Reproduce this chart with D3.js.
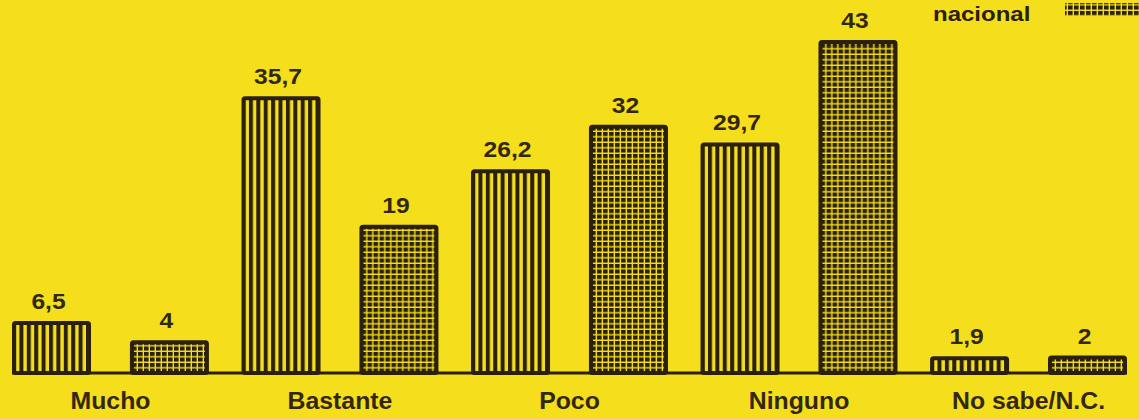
<!DOCTYPE html>
<html lang="es">
<head>
  <meta charset="UTF-8">
  <title>Mucho / Bastante / Poco / Ninguno</title>
  <script src="https://d3js.org/d3.v7.min.js"></script>
  <style>
    html, body {
      margin: 0;
      padding: 0;
      background: #f5df1c;
      overflow: hidden;
    }
    svg { display: block; }
    .value-label {
      font-family: "Liberation Sans", Arial, sans-serif;
      font-size: 22px;
      font-weight: bold;
      fill: #33280f;
      text-anchor: middle;
    }
    .cat-label {
      font-family: "Liberation Sans", Arial, sans-serif;
      font-size: 23px;
      font-weight: bold;
      fill: #33280f;
      text-anchor: middle;
    }
    .legend-label {
      font-family: "Liberation Sans", Arial, sans-serif;
      font-size: 20px;
      font-weight: bold;
      fill: #2a200c;
    }
  </style>
</head>
<body>
  <svg width="1139" height="419"></svg>

  <script>
    // datos
    const categories = ["Mucho", "Bastante", "Poco", "Ninguno", "No sabe/N.C."];
    const series = ["local", "nacional"];
    const localValues = [6.5, 35.7, 26.2, 29.7, 1.9];
    const nacionalValues = [4, 19, 32, 43, 2];
    const valueLabels = [
      ["6,5", "4"], ["35,7", "19"], ["26,2", "32"], ["29,7", "43"], ["1,9", "2"]
    ];

    const W = 1139, H = 419;
    const ink = "#2a200c";
    const bg = "#f5df1c";

    const svg = d3.select("svg").attr("width", W).attr("height", H);

    // patrones: rayado vertical y cuadrícula
    const defs = svg.append("defs");
    const stripes = defs.append("pattern")
      .attr("id", "stripes")
      .attr("patternUnits", "userSpaceOnUse")
      .attr("width", 7.4).attr("height", 7);
    stripes.append("rect").attr("width", 7.4).attr("height", 7).attr("fill", bg);
    stripes.append("rect").attr("x", 0).attr("width", 4).attr("height", 7).attr("fill", ink);

    const grid = defs.append("pattern")
      .attr("id", "grid")
      .attr("patternUnits", "userSpaceOnUse")
      .attr("width", 6).attr("height", 5.5);
    grid.append("rect").attr("width", 6).attr("height", 5.5).attr("fill", bg);
    grid.append("rect").attr("x", 0).attr("y", 0).attr("width", 4.6).attr("height", 4.1).attr("fill", ink);

    const fills = { local: "url(#stripes)", nacional: "url(#grid)" };

    // escalas
    const x0 = d3.scaleBand()
      .domain(categories)
      .range([12, 1127])
      .paddingInner(0.142)
      .paddingOuter(0);

    const x1 = d3.scaleBand()
      .domain(series)
      .range([0, x0.bandwidth()])
      .paddingInner(0.33)
      .paddingOuter(0);

    const y = d3.scaleLinear()
      .domain([0, 43])
      .range([373, 42]);

    const rows = categories.map((c, i) => ({
      cat: c,
      bars: [
        { key: "local", value: localValues[i], label: valueLabels[i][0] },
        { key: "nacional", value: nacionalValues[i], label: valueLabels[i][1] }
      ]
    }));

    // línea base
    svg.append("line")
      .attr("x1", x0.range()[0])
      .attr("x2", x0.range()[1])
      .attr("y1", y(0))
      .attr("y2", y(0))
      .attr("stroke", ink)
      .attr("stroke-width", 3);

    const groups = svg.selectAll(".group")
      .data(rows)
      .enter()
      .append("g")
      .attr("class", "group")
      .attr("transform", d => `translate(${x0(d.cat)},0)`);

    groups.selectAll("rect")
      .data(d => d.bars)
      .enter()
      .append("rect")
      .attr("x", d => x1(d.key) + 2)
      .attr("y", d => y(d.value))
      .attr("width", x1.bandwidth() - 4)
      .attr("height", d => y(0) - y(d.value))
      .attr("rx", 1.5)
      .attr("fill", d => fills[d.key])
      .attr("stroke", ink)
      .attr("stroke-width", 4);

    groups.selectAll(".value-label")
      .data(d => d.bars)
      .enter()
      .append("text")
      .attr("class", "value-label")
      .attr("transform", d => `translate(${x1(d.key) + x1.bandwidth() / 2 - 3},${y(d.value) - 14}) scale(1.12,1)`)
      .text(d => d.label);

    // etiquetas de categoría
    svg.selectAll(".cat-label")
      .data(categories)
      .enter()
      .append("text")
      .attr("class", "cat-label")
      .attr("transform", d => `translate(${x0(d) + x0.bandwidth() / 2},409) scale(1.08,1)`)
      .text(d => d);

    // leyenda (parcial, cortada arriba)
    svg.append("text")
      .attr("class", "legend-label")
      .attr("transform", "translate(933,21) scale(1.2,1)")
      .text("nacional");
    svg.append("rect")
      .attr("x", 1065)
      .attr("y", 3)
      .attr("width", 80)
      .attr("height", 13)
      .attr("fill", "url(#grid)");
  </script>
</body>
</html>
